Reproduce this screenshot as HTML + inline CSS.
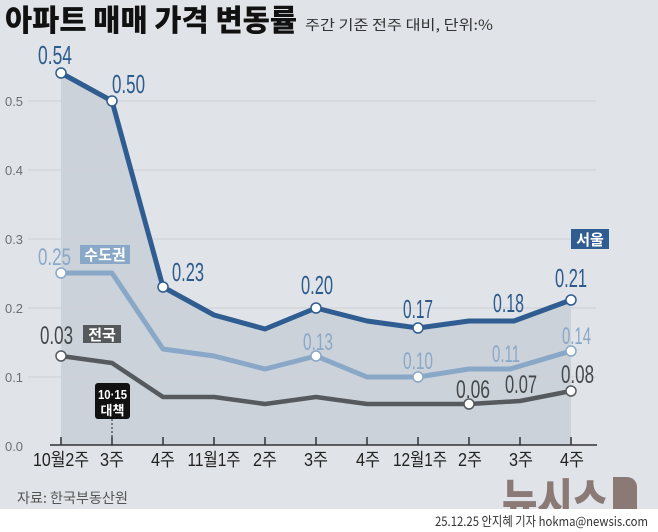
<!DOCTYPE html>
<html><head><meta charset="utf-8">
<style>
html,body{margin:0;padding:0;background:#e0e3e7;}
svg{display:block;}
text{font-family:"Liberation Sans","Noto Sans CJK KR",sans-serif;}
.k{font-family:"Noto Sans CJK KR","Liberation Sans",sans-serif;}
</style></head>
<body>
<svg width="658" height="532" viewBox="0 0 658 532" xmlns="http://www.w3.org/2000/svg">
<rect x="0" y="0" width="658" height="532" fill="#e0e3e7"/>

<!-- fill under Seoul -->
<polygon points="61,73 112,101 163,287 214,315 265,329 316,308 367,321 418,328 469,321 514,321 571,300 571,445 61,445" fill="#cbd2da"/>

<!-- gridlines -->
<g stroke="#cfd3d7" stroke-width="1.2">
<line x1="28" y1="101" x2="596" y2="101"/>
<line x1="28" y1="170" x2="596" y2="170"/>
<line x1="28" y1="239" x2="596" y2="239"/>
<line x1="28" y1="308" x2="596" y2="308"/>
<line x1="28" y1="377" x2="596" y2="377"/>
</g>

<!-- y labels -->
<g fill="#6b6f73" font-size="13">
<text x="5" y="106" textLength="18" lengthAdjust="spacingAndGlyphs">0.5</text>
<text x="5" y="175" textLength="18" lengthAdjust="spacingAndGlyphs">0.4</text>
<text x="5" y="244" textLength="18" lengthAdjust="spacingAndGlyphs">0.3</text>
<text x="5" y="313" textLength="18" lengthAdjust="spacingAndGlyphs">0.2</text>
<text x="5" y="382" textLength="18" lengthAdjust="spacingAndGlyphs">0.1</text>
<text x="5" y="451" textLength="18" lengthAdjust="spacingAndGlyphs">0.0</text>
</g>

<!-- axis -->
<line x1="50" y1="445" x2="597" y2="445" stroke="#333" stroke-width="1.5"/>
<g stroke="#333" stroke-width="1.5">
<line x1="61" y1="437" x2="61" y2="445"/>
<line x1="112" y1="437" x2="112" y2="445"/>
<line x1="163" y1="437" x2="163" y2="445"/>
<line x1="214" y1="437" x2="214" y2="445"/>
<line x1="265" y1="437" x2="265" y2="445"/>
<line x1="316" y1="437" x2="316" y2="445"/>
<line x1="367" y1="437" x2="367" y2="445"/>
<line x1="418" y1="437" x2="418" y2="445"/>
<line x1="469" y1="437" x2="469" y2="445"/>
<line x1="520" y1="437" x2="520" y2="445"/>
<line x1="571" y1="437" x2="571" y2="445"/>
</g>

<!-- x labels -->
<g fill="#222" font-size="18" text-anchor="middle">
<text x="61" y="466" textLength="56" lengthAdjust="spacingAndGlyphs">10월2주</text>
<text x="112" y="466" textLength="24" lengthAdjust="spacingAndGlyphs">3주</text>
<text x="163" y="466" textLength="24" lengthAdjust="spacingAndGlyphs">4주</text>
<text x="214" y="466" textLength="53" lengthAdjust="spacingAndGlyphs">11월1주</text>
<text x="265" y="466" textLength="24" lengthAdjust="spacingAndGlyphs">2주</text>
<text x="316" y="466" textLength="24" lengthAdjust="spacingAndGlyphs">3주</text>
<text x="368" y="466" textLength="24" lengthAdjust="spacingAndGlyphs">4주</text>
<text x="420" y="466" textLength="54" lengthAdjust="spacingAndGlyphs">12월1주</text>
<text x="470" y="466" textLength="24" lengthAdjust="spacingAndGlyphs">2주</text>
<text x="521" y="466" textLength="24" lengthAdjust="spacingAndGlyphs">3주</text>
<text x="572" y="466" textLength="24" lengthAdjust="spacingAndGlyphs">4주</text>
</g>

<!-- lines -->
<polyline points="61,356 112,363 163,397 214,397 265,404 316,397 367,404 418,404 469,404 520,401 571,391" fill="none" stroke="#565a5e" stroke-width="4.5" stroke-linejoin="round"/>
<polyline points="61,273 112,273 163,349 214,356 265,369 316,356 367,377 418,377 469,369 510,369 571,351" fill="none" stroke="#89a8c8" stroke-width="5" stroke-linejoin="round"/>
<polyline points="61,73 112,101 163,287 214,315 265,329 316,308 367,321 418,328 469,321 514,321 571,300" fill="none" stroke="#2f5d92" stroke-width="5" stroke-linejoin="round"/>

<!-- markers -->
<g fill="#fff" stroke="#565a5e" stroke-width="1.5">
<circle cx="61" cy="356" r="5"/>
<circle cx="469" cy="404" r="5"/>
<circle cx="571" cy="391" r="5"/>
</g>
<g fill="#fff" stroke="#89a8c8" stroke-width="1.5">
<circle cx="61" cy="273" r="5"/>
<circle cx="316" cy="356" r="5"/>
<circle cx="418" cy="377" r="5"/>
<circle cx="571" cy="351" r="5"/>
</g>
<g fill="#fff" stroke="#2f5d92" stroke-width="1.5">
<circle cx="61" cy="73" r="5"/>
<circle cx="112" cy="101" r="5"/>
<circle cx="163" cy="287" r="5"/>
<circle cx="316" cy="308" r="5"/>
<circle cx="418" cy="328" r="5"/>
<circle cx="571" cy="300" r="5"/>
</g>

<!-- value labels Seoul -->
<g fill="#2c5a8c" font-size="26">
<text x="38" y="64" textLength="34" lengthAdjust="spacingAndGlyphs">0.54</text>
<text x="112" y="93" textLength="33" lengthAdjust="spacingAndGlyphs">0.50</text>
<text x="172" y="281" textLength="32" lengthAdjust="spacingAndGlyphs">0.23</text>
<text x="301" y="294" textLength="32" lengthAdjust="spacingAndGlyphs">0.20</text>
<text x="403" y="318" textLength="30" lengthAdjust="spacingAndGlyphs">0.17</text>
<text x="493" y="312" textLength="31" lengthAdjust="spacingAndGlyphs">0.18</text>
<text x="555" y="287" textLength="32" lengthAdjust="spacingAndGlyphs">0.21</text>
</g>
<!-- value labels Sudogwon -->
<g fill="#8aa8c8" font-size="24">
<text x="38" y="265" textLength="33" lengthAdjust="spacingAndGlyphs">0.25</text>
<text x="303" y="350" textLength="30" lengthAdjust="spacingAndGlyphs">0.13</text>
<text x="403" y="369" textLength="30" lengthAdjust="spacingAndGlyphs">0.10</text>
<text x="492" y="362" textLength="28" lengthAdjust="spacingAndGlyphs">0.11</text>
<text x="562" y="344" textLength="29" lengthAdjust="spacingAndGlyphs">0.14</text>
</g>
<!-- value labels National -->
<g fill="#44474a" font-size="25">
<text x="40" y="344" textLength="33" lengthAdjust="spacingAndGlyphs">0.03</text>
<text x="456" y="398" textLength="34" lengthAdjust="spacingAndGlyphs">0.06</text>
<text x="505" y="393" textLength="32" lengthAdjust="spacingAndGlyphs">0.07</text>
<text x="561" y="383" textLength="33" lengthAdjust="spacingAndGlyphs">0.08</text>
</g>

<!-- legend boxes -->
<rect x="80" y="245" width="50" height="19" fill="#89a8c8"/>
<text class="k" x="105" y="260" font-size="15" font-weight="bold" fill="#fff" text-anchor="middle">수도권</text>
<rect x="83" y="325" width="38" height="18" fill="#55595c"/>
<text class="k" x="102" y="340" font-size="15" font-weight="bold" fill="#fff" text-anchor="middle">전국</text>
<rect x="571" y="229" width="38" height="20" fill="#2f5d92"/>
<text class="k" x="590" y="245" font-size="15" font-weight="bold" fill="#fff" text-anchor="middle">서울</text>

<!-- 10.15 policy box -->
<rect x="95" y="383" width="35" height="36" rx="3" fill="#111"/>
<text x="112.5" y="399" font-size="13" font-weight="bold" fill="#fff" text-anchor="middle" textLength="29" lengthAdjust="spacingAndGlyphs">10·15</text>
<text class="k" x="112.5" y="415" font-size="13" font-weight="bold" fill="#fff" text-anchor="middle">대책</text>
<line x1="112" y1="419" x2="112" y2="437" stroke="#222" stroke-width="1" stroke-dasharray="2,2"/>

<!-- title -->
<text class="k" x="5" y="31" font-size="30" font-weight="900" fill="#111" textLength="292" lengthAdjust="spacingAndGlyphs">아파트 매매 가격 변동률</text>
<text class="k" x="305" y="30" font-size="14" fill="#333" textLength="188" lengthAdjust="spacingAndGlyphs">주간 기준 전주 대비, 단위:%</text>

<!-- source -->
<text class="k" x="17" y="503" font-size="14" fill="#555" textLength="111" lengthAdjust="spacingAndGlyphs">자료: 한국부동산원</text>

<!-- logo -->
<text class="k" x="502" y="517" font-size="46" font-weight="900" fill="#8b7975" textLength="106" lengthAdjust="spacingAndGlyphs">뉴시스</text>
<path d="M613,477 h14 a10,10 0 0 1 10,10 v22 h-24 z" fill="#8b7975"/>

<!-- bottom strip -->
<rect x="0" y="509" width="658" height="23" fill="#fff"/>
<text class="k" x="435" y="526" font-size="13" fill="#333" textLength="213" lengthAdjust="spacingAndGlyphs">25.12.25 안지혜 기자 hokma@newsis.com</text>
</svg>
</body></html>
